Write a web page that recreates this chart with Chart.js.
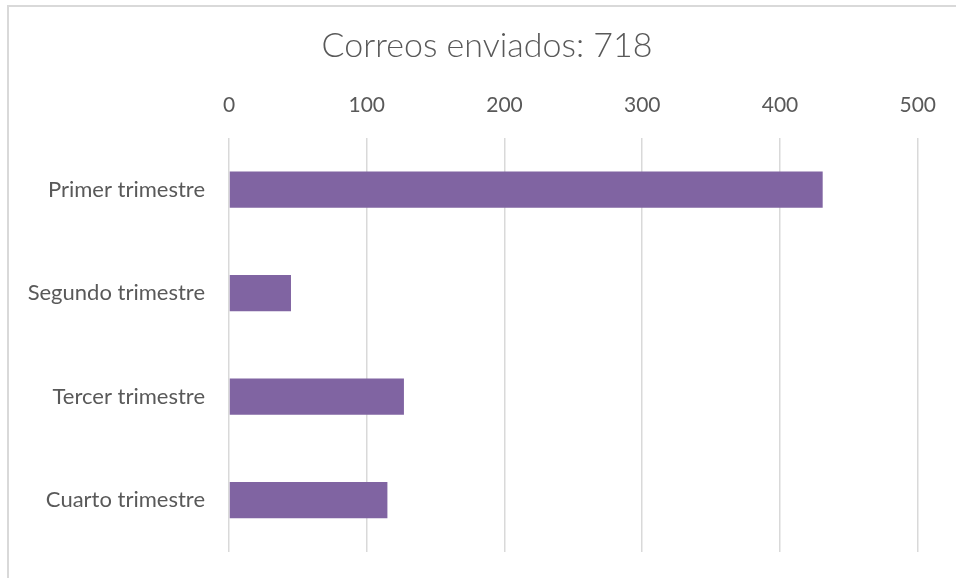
<!DOCTYPE html>
<html>
<head>
<meta charset="utf-8">
<script src="https://cdn.jsdelivr.net/npm/chart.js@4/dist/chart.umd.min.js"></script>
<style>
  html, body { margin: 0; padding: 0; background: #fff; }
  #wrap { position: relative; width: 956px; height: 578px; overflow: hidden; }
  #frame {
    position: absolute; left: 7px; top: 5px; width: 1000px; height: 700px;
    border: 2px solid #d9d9d9; box-sizing: border-box; pointer-events: none;
  }
  canvas { position: absolute; left: 0; top: 0; }
</style>
</head>
<body>
<div id="wrap">
  <canvas id="chart" width="956" height="578"></canvas>
  <div id="frame"></div>
</div>
<script>
const quarters = ["Primer trimestre", "Segundo trimestre", "Tercer trimestre", "Cuarto trimestre"]
const sent = [431, 45, 127, 115]
const xTicks = [0, 100, 200, 300, 400, 500]

const total = sent.reduce((a, b) => a + b, 0)
const grey = "#595959"
const fontFamily = "Lato, 'Noto Sans', sans-serif"

// center the title over the whole frame rather than the canvas
const shiftTitle = {
  id: "shiftTitle",
  afterLayout(chart) {
    if (chart.titleBlock) chart.titleBlock.left = 53
  }
}

new Chart(document.getElementById("chart"), {
  type: "bar",
  data: {
    labels: quarters,
    datasets: [{
      data: sent,
      backgroundColor: "#8064A2",
      categoryPercentage: 1,
      barPercentage: 0.35
    }]
  },
  plugins: [shiftTitle],
  options: {
    indexAxis: "y",
    responsive: false,
    animation: false,
    layout: { padding: { left: 0, right: 35, bottom: 26, top: 0 } },
    plugins: {
      legend: { display: false },
      tooltip: { enabled: false },
      title: {
        display: true,
        text: "Correos enviados: " + total,
        color: grey,
        font: { family: fontFamily, size: 34, weight: "300" },
        padding: { top: 26, bottom: 8 }
      }
    },
    scales: {
      x: {
        position: "top",
        min: 0,
        max: 500,
        afterBuildTicks: (scale) => { scale.ticks = xTicks.map(v => ({ value: v })) },
        afterFit: (scale) => { scale.height = 63 },
        grid: { color: "#d9d9d9", lineWidth: 1.5, drawTicks: false },
        border: { display: false },
        ticks: { color: grey, padding: 20, font: { family: fontFamily, size: 21 } }
      },
      y: {
        afterFit: (scale) => {
          scale.width = 229
          scale.paddingTop = 0
          scale.paddingBottom = 0
        },
        grid: { display: false, drawTicks: false },
        border: { display: false },
        ticks: { color: grey, padding: 24, font: { family: fontFamily, size: 22 } }
      }
    }
  }
})
</script>
</body>
</html>
